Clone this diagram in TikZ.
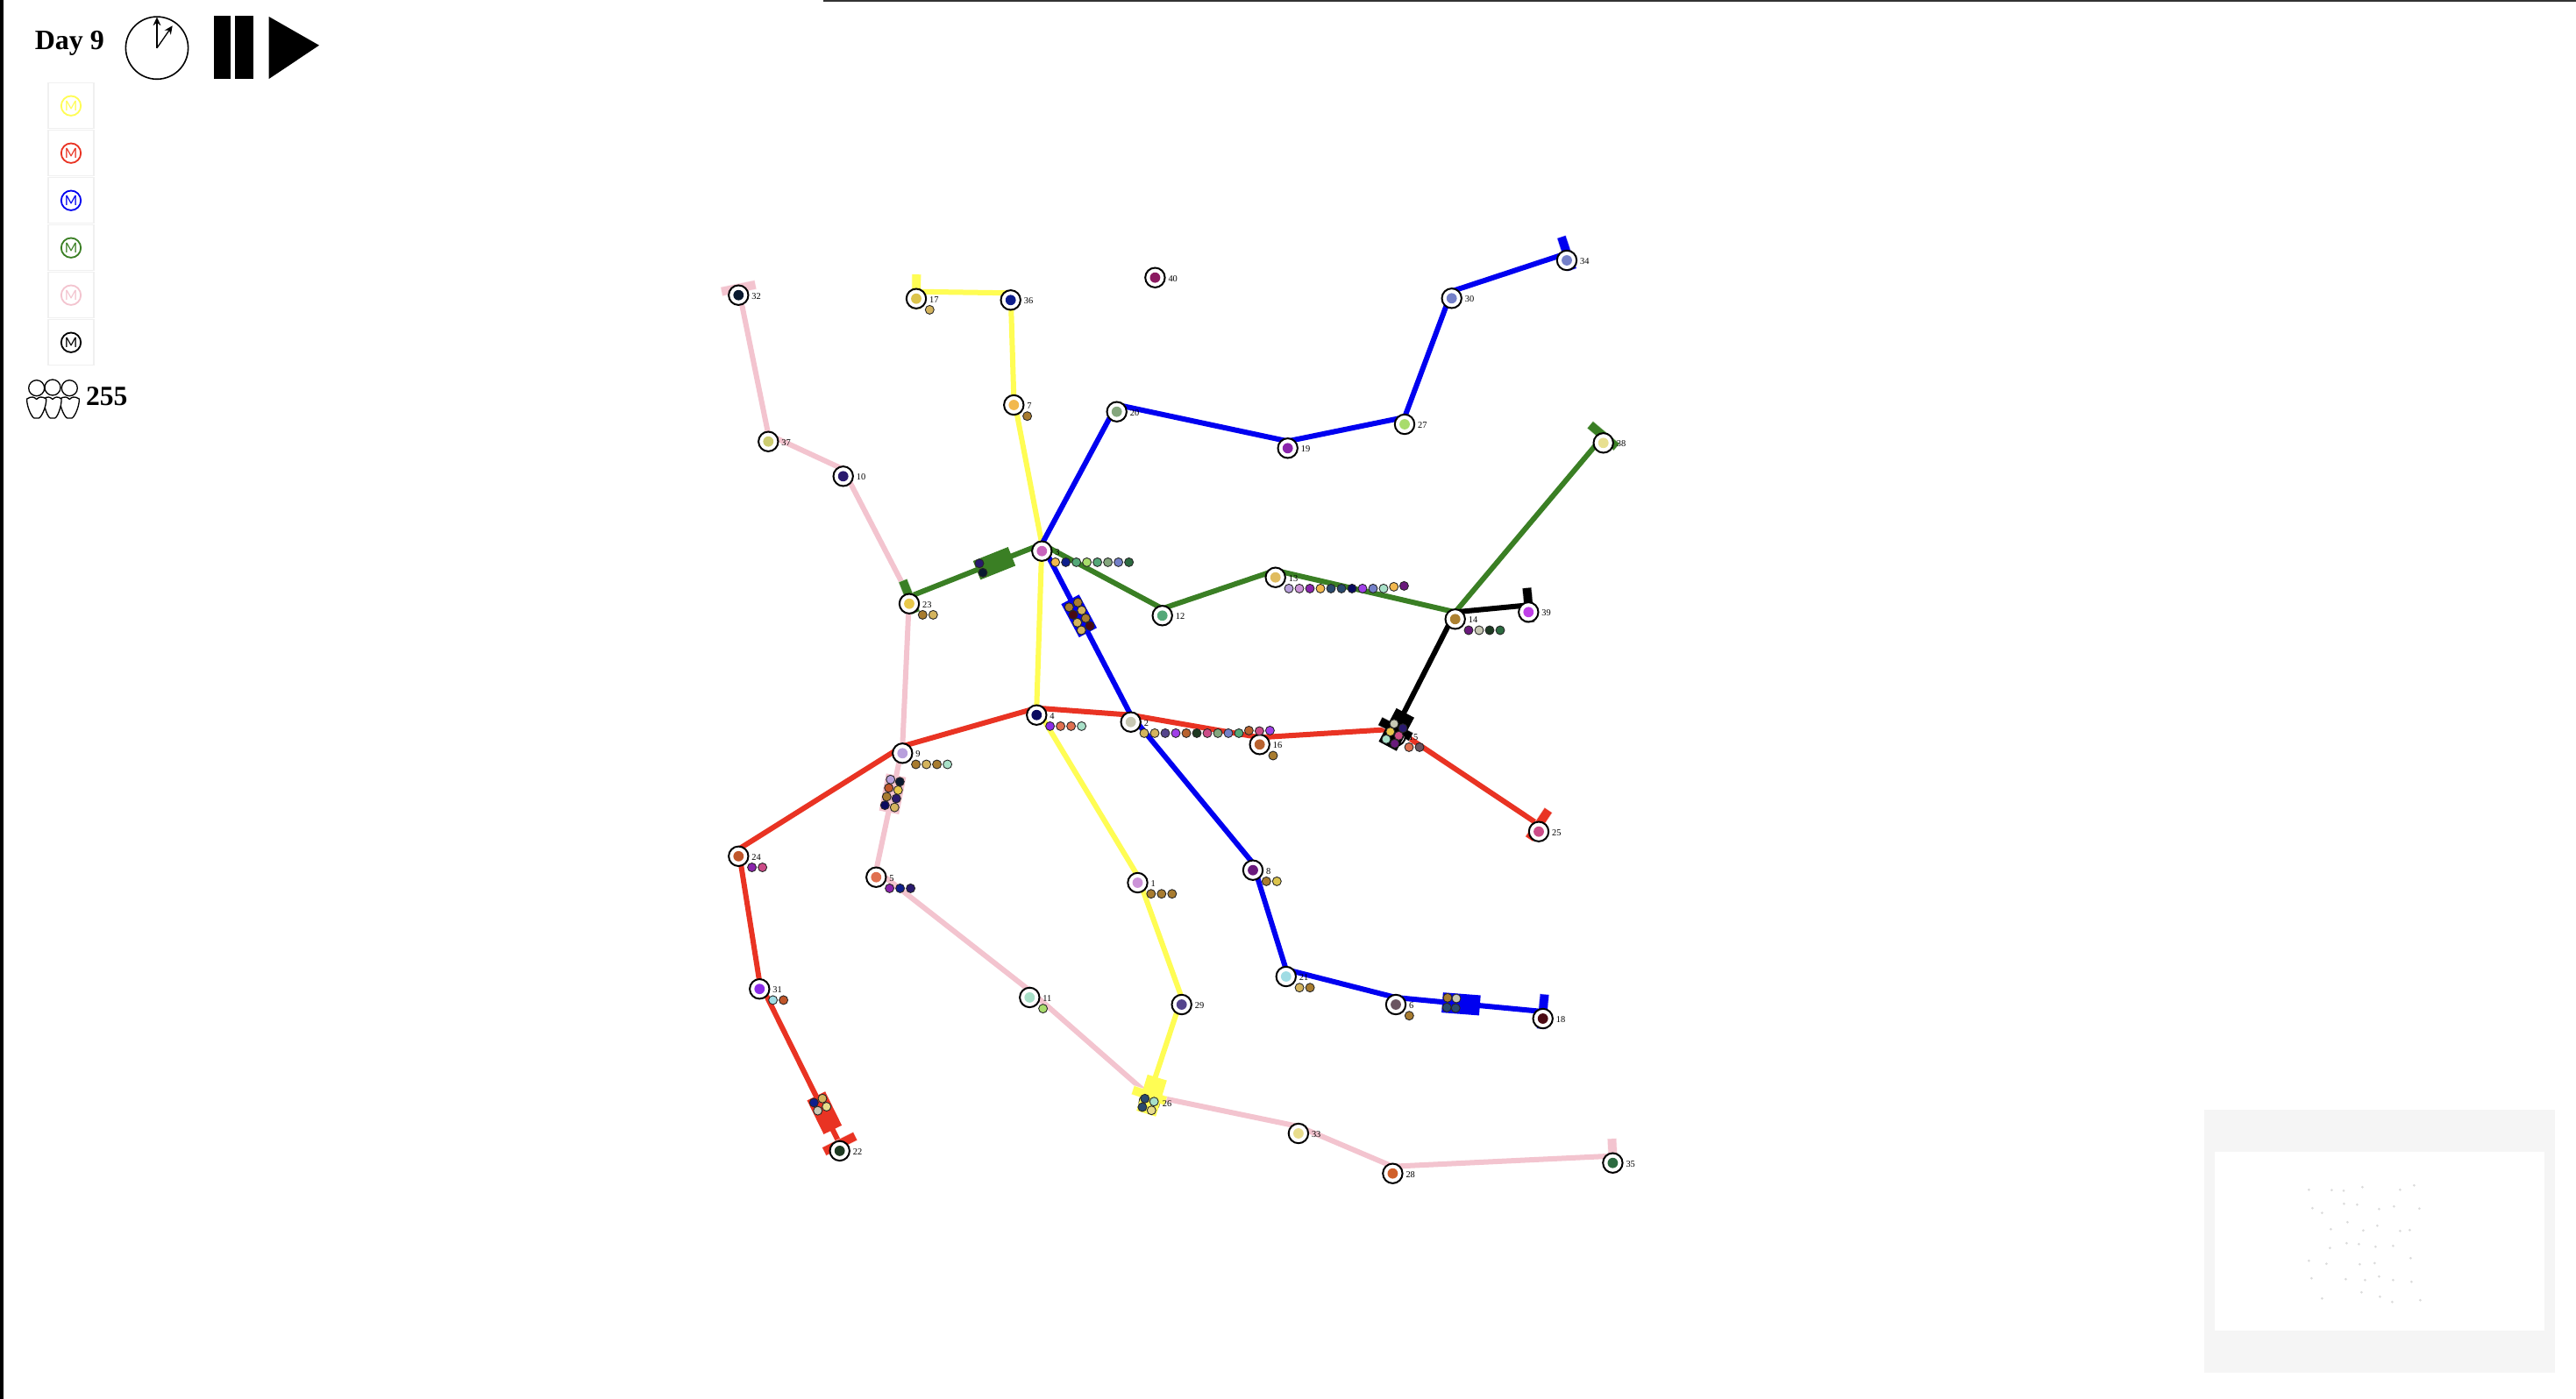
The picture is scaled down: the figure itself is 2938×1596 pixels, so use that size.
\documentclass[tikz,border=0pt]{standalone}
\usepackage{fontspec}
\setmainfont{Liberation Serif}
\newfontfamily\latofont{Lato}
\usetikzlibrary{calc,arrows.meta,backgrounds}
\definecolor{lineyellow}{HTML}{FFFD54}
\definecolor{linered}{HTML}{E93323}
\definecolor{lineblue}{HTML}{0000F0}
\definecolor{linegreen}{HTML}{3A7F24}
\definecolor{linepink}{HTML}{F3C4CF}
\definecolor{linekey}{HTML}{000000}
\tikzset{
  stationring/.style={circle,draw=black,fill=white,line width=.5pt,minimum size=5.6pt,inner sep=0pt},
  stationdot/.style={circle,minimum size=2.95pt,inner sep=0pt},
  stationlabel/.style={anchor=west,inner sep=0pt,text=black,font=\fontsize{2.6pt}{3pt}\selectfont},
  paxdot/.style={circle,draw=black!85,line width=.22pt,minimum size=2.5pt,inner sep=0pt},
  trackline/.style={line width=1.5pt,line join=round},
  capline/.style={line width=2.4pt},
  capglow/.style={line width=2.75pt},
  trainbox/.style={rectangle,minimum width=10.75pt,minimum height=5.75pt,inner sep=0pt},
  legendcell/.style={rectangle,draw=black!6,fill=white,line width=.35pt,minimum size=13pt,inner sep=0pt},
  legendmark/.style={circle,fill=white,line width=.45pt,minimum size=5.6pt,inner sep=0pt,font=\latofont\fontsize{3.9pt}{4pt}\selectfont},
  peoplebody/.style={draw=black,line width=.33pt,line join=round},
  clockhand/.style={line width=.33pt,-{Stealth[length=2.4pt,width=2.2pt]}}
}
% station: name, x, y, hex of the inner dot
\newcommand\mstn[4]{%
  \node[stationring] (s#1) at (#2,#3) {};
  \definecolor{tmpc}{HTML}{#4}%
  \node[stationdot,fill=tmpc] (d#1) at (s#1.center) {};
  \coordinate (p#1) at ($(s#1.center)+(0,-8)$);
  \node[stationlabel] (n#1) at ($(s#1.center)+(14.3,1)$) {#1};
}
% waiting passengers at a station
\newcommand\mpax[2]{%
  \foreach \pc [count=\pn from 0] in {#2}{%
    \edef\tmpdef{\noexpand\definecolor{tmpc}{HTML}{\pc}}\tmpdef
    \node[paxdot,fill=tmpc] (q#1-\pn) at ($(s#1.center)+({15.3+12*\pn},12.7)$) {};
  }%
}
% single passenger at a free place
\newcommand\mrider[4]{%
  \definecolor{tmpc}{HTML}{#4}%
  \node[paxdot,fill=tmpc] (#1) at (#2,#3) {};
}
% line end bar: at station a, across the track towards b
\newcommand\mcap[3]{%
  \draw[capglow,#3!25] ($(p#1)!5pt!90:(p#2)$) -- ($(p#1)!5pt!-90:(p#2)$);
  \draw[capline,#3] ($(p#1)!4.875pt!90:(p#2)$) -- ($(p#1)!4.875pt!-90:(p#2)$);
}
\begin{document}
\begin{tikzpicture}[x=.25pt,y=-.25pt]
\useasboundingbox (0,0) rectangle (2938,1596);
% stations
\mstn{32}{842.3}{336.7}{0A1A30}
\mstn{37}{876.3}{503.7}{CCCC70}
\mstn{10}{961.7}{543.3}{2A1A6E}
\mstn{23}{1037}{688.7}{E8C84A}
\mstn{17}{1045}{340.7}{DCC44C}
\mstn{36}{1152.7}{342.3}{0E1E8C}
\mstn{7}{1156.3}{462}{F2B84E}
\mstn{20}{1273.7}{469.7}{84A67C}
\mstn{3}{1188.3}{628.7}{C864BC}
\mstn{19}{1468.7}{511.3}{8A24AC}
\mstn{27}{1602}{484}{A8DC6C}
\mstn{12}{1325.7}{702.3}{54A878}
\mstn{13}{1454.7}{658.7}{E0BC60}
\mstn{4}{1182.3}{815.7}{0A0A60}
\mstn{2}{1289.7}{823.7}{C8C8B4}
\mstn{16}{1436.7}{849.3}{B8622E}
\mstn{34}{1787}{297}{7480C8}
\mstn{30}{1655.7}{340.3}{7480C8}
\mstn{38}{1828.7}{505.3}{E8E090}
\mstn{14}{1659.7}{706.3}{AC8030}
\mstn{39}{1743.3}{698.3}{C040E8}
\mstn{15}{1591.7}{839.7}{E8C84A}
\mstn{25}{1755}{948.7}{CC4C88}
\mstn{9}{1029.3}{859.3}{B8A0DC}
\mstn{24}{842.3}{976.8}{C0562A}
\mstn{5}{999.3}{1000.7}{E07050}
\mstn{31}{866.3}{1128.2}{8A2CE8}
\mstn{22}{957.7}{1312.9}{1E3A22}
\mstn{11}{1174.3}{1137.9}{A8E0C8}
\mstn{1}{1297.5}{1007}{CC94D8}
\mstn{8}{1429}{992.7}{6A1A7C}
\mstn{21}{1466.8}{1114}{A0DCE4}
\mstn{6}{1592}{1146}{6A5460}
\mstn{18}{1759.7}{1162}{4A0A14}
\mstn{29}{1347.7}{1146}{54448C}
\mstn{26}{1310.8}{1257.7}{A8E0C8}
\mstn{33}{1480.9}{1293}{E8DC8C}
\mstn{28}{1588.4}{1338.7}{D0602A}
\mstn{35}{1839.4}{1326.7}{2C6A40}
\mstn{40}{1317.4}{316.7}{8A1A60}
% tracks, under the stations
\begin{pgfonlayer}{background}
\fill[white] (0,0) rectangle (2938,1596);
\draw[trackline,linepink] (p32)--(p37)--(p10)--(p23)--(p9)--(p5)--(p11)--(p26)--(p33)--(p28)--(p35);
\mcap{32}{37}{linepink}
\mcap{35}{28}{linepink}
\draw[trackline,lineyellow] (p17)--(p36)--(p7)--(p3)--(p4)--(p1)--(p29)--(p26);
\mcap{17}{36}{lineyellow}
\mcap{26}{29}{lineyellow}
\draw[trackline,lineblue] (p34)--(p30)--(p27)--(p19)--(p20)--(p3)--(p2)--(p8)--(p21)--(p6)--(p18);
\mcap{34}{30}{lineblue}
\mcap{18}{6}{lineblue}
\draw[trackline,linered] (p22)--(p31)--(p24)--(p9)--(p4)--(p2)--(p16)--(p15)--(p25);
\mcap{22}{31}{linered}
\mcap{25}{15}{linered}
\draw[trackline,linegreen] (p23)--(p3)--(p12)--(p13)--(p14)--(p38);
\mcap{23}{3}{linegreen}
\mcap{38}{14}{linegreen}
\draw[trackline,linekey] (p39)--(p14)--(p15);
\mcap{39}{14}{linekey}
\mcap{15}{14}{linekey}
\end{pgfonlayer}
% trains
\node[trainbox,fill=linegreen,rotate=21.8] (t1) at (1134,642.7) {};
\node[trainbox,fill=lineblue,rotate=-61.8] (t2) at (1230.7,702.7) {};
\node[trainbox,fill=linepink,rotate=79] (t3) at (1018,905.7) {};
\node[trainbox,fill=linered,rotate=-63.8] (t4) at (940.3,1269.6) {};
\node[trainbox,fill=lineblue,rotate=-4.4] (t5) at (1666.4,1145.3) {};
\node[trainbox,fill=lineyellow,rotate=73] (t6) at (1313.5,1249.8) {};
\node[trainbox,fill=linekey,rotate=62] (t7) at (1592.7,832.3) {};
% riders
\mrider{r11}{1117}{642.7}{2A1A6E}
\mrider{r12}{1121}{653.3}{0A1A30}
\mrider{r21}{1219.3}{692.7}{A87C30}
\mrider{r22}{1229.3}{687.3}{A87C30}
\mrider{r23}{1224}{701.3}{4A0A14}
\mrider{r24}{1233.7}{696.3}{D4B45E}
\mrider{r25}{1228.7}{710.3}{D4B45E}
\mrider{r26}{1238.3}{705.3}{A87C30}
\mrider{r27}{1233.3}{719}{D4B45E}
\mrider{r28}{1243}{714}{4A0A14}
\mrider{r31}{1015.7}{889.3}{B8A0DC}
\mrider{r32}{1026.3}{891.8}{0A1A30}
\mrider{r33}{1013.7}{898.9}{C0562A}
\mrider{r34}{1024.3}{901.4}{E8C84A}
\mrider{r35}{1011.3}{908.9}{A87C30}
\mrider{r36}{1022.3}{911}{2A1A6E}
\mrider{r37}{1009.3}{918.6}{0A0A60}
\mrider{r38}{1020.3}{921.1}{D4B45E}
\mrider{r41}{938}{1253.2}{D4B45E}
\mrider{r42}{928.3}{1257.9}{0E1E8C}
\mrider{r43}{942.7}{1262.5}{E8DC8C}
\mrider{r44}{932.7}{1267.1}{C8C8B4}
\mrider{r51}{1651}{1138.3}{A87C30}
\mrider{r52}{1661}{1139}{C8C8B4}
\mrider{r53}{1650.2}{1149.3}{2A4A6E}
\mrider{r54}{1660.2}{1150}{2A4A6E}
\mrider{r61}{1305.8}{1253.3}{2A4A6E}
\mrider{r62}{1316.2}{1256.7}{A8E0C8}
\mrider{r63}{1302.9}{1263}{2A4A6E}
\mrider{r64}{1313.3}{1266.7}{E8DC8C}
\mrider{r71}{1590}{825.7}{C8C8B4}
\mrider{r72}{1600}{830.7}{2A1A6E}
\mrider{r73}{1585.7}{834.7}{E8C84A}
\mrider{r74}{1595.3}{839.3}{CC4C88}
\mrider{r75}{1581}{843.3}{A8E0C8}
\mrider{r76}{1590.7}{848.3}{6A1A7C}
% waiting passengers
\mpax{3}{F2B84E,0E1E8C,54A878,A8DC6C,54A878,84A67C,7480C8,2C6A40}
\mpax{23}{A87C30,D4B45E}
\mpax{17}{D4B45E}
\mpax{7}{A87C30}
\mpax{13}{B8A0DC,CC94D8,8A24AC,F2B84E,2A4A6E,2A4A6E,0A0A60,A040E8,7480C8,A8E0C8}
\mrider{q13-10}{1589.7}{669.4}{F2B84E}
\mrider{q13-11}{1601.4}{668.4}{6A1A7C}
\mpax{4}{8A2CE8,E07050,E07050,A8E0C8}
\mpax{2}{D4B45E,D4B45E,54448C,A040E8,B8622E,1E3A22,CC4C88,84A67C,7480C8,54A878}
\mrider{q2-10}{1424.4}{833.4}{B8622E}
\mrider{q2-11}{1436.4}{834}{CC4C88}
\mrider{q2-12}{1448.4}{833.4}{A040E8}
\mpax{16}{A87C30}
\mpax{14}{6A1A7C,C8C8B4,1E3A22,2C6A40}
\mpax{9}{A87C30,D4B45E,A87C30,A8E0C8}
\mpax{24}{8A24AC,CC4C88}
\mpax{5}{8A24AC,0E1E8C,2A1A6E}
\mpax{31}{A0DCE4,C0562A}
\mpax{11}{A8DC6C}
\mpax{1}{A87C30,A87C30,A87C30}
\mpax{8}{A87C30,DCC44C}
\mpax{21}{D4B45E,A87C30}
\mpax{6}{A87C30}
\mpax{15}{E07050,6A5460}
% page edges
\fill[black] (0,0) rectangle (4,1596);
\fill[black!80] (939,0) rectangle (2938,2);
% head of the panel
\node[anchor=base west,inner sep=0pt,font=\fontsize{8pt}{9pt}\selectfont\bfseries] (day) at (39,56) {Day 9};
\node[circle,draw=black,line width=.4pt,minimum size=17.8pt,inner sep=0pt] (clock) at (179,54.7) {};
\draw[clockhand] (clock.center) -- (179,19.5);
\draw[clockhand] (clock.center) -- (196.7,29.3);
\fill[black] (244.3,18.3) rectangle (263.3,90);
\fill[black] (267.7,18.3) rectangle (288.7,90);
\fill[black] (306.7,19) -- (364,51.7) -- (306.7,90) -- cycle;
% legend
\node[legendcell] (lg1) at (81,120.7) {};
\node[legendcell] (lg2) at (81,174.7) {};
\node[legendcell] (lg3) at (81,228.7) {};
\node[legendcell] (lg4) at (81,282.7) {};
\node[legendcell] (lg5) at (81,336.7) {};
\node[legendcell] (lg6) at (81,390.7) {};
\node[legendmark,draw=lineyellow,text=lineyellow] (lm1) at (lg1.center) {M};
\node[legendmark,draw=linered,text=linered] (lm2) at (lg2.center) {M};
\node[legendmark,draw=lineblue,text=lineblue] (lm3) at (lg3.center) {M};
\node[legendmark,draw=linegreen,text=linegreen] (lm4) at (lg4.center) {M};
\node[legendmark,draw=linepink,text=linepink] (lm5) at (lg5.center) {M};
\node[legendmark,draw=linekey,text=linekey] (lm6) at (lg6.center) {M};
% people count
\foreach \cx/\hw in {79.3/11,60/10,41.7/11}{
  \draw[peoplebody,fill=white] (\cx-\hw,455) .. controls (\cx-\hw-.5,464) and (\cx-5,477) .. (\cx-2.5,477)
    -- (\cx+2.5,477) .. controls (\cx+5,477) and (\cx+\hw+.5,464) .. (\cx+\hw,455)
    .. controls (\cx+6,452) and (\cx+3,452.5) .. (\cx,455.5)
    .. controls (\cx-3,452.5) and (\cx-6,452) .. cycle;
}
\draw[peoplebody,fill=white] (60,442) circle[radius=9];
\draw[peoplebody,fill=white] (41.7,442.7) circle[radius=9];
\draw[peoplebody,fill=white] (79.3,442.7) circle[radius=9];
\node[anchor=base west,inner sep=0pt,font=\fontsize{7.9pt}{9pt}\selectfont\bfseries] (count) at (97.3,462.7) {255};
% overview map
\fill[black!4] (2514,1266) rectangle (2914,1565.7);
\fill[white] (2526.3,1313.7) rectangle (2901.7,1517.7);
\foreach \a/\b in {460/322,538/323,579/325,643/313,772/322,820/307,472/385,505/401,580/370,625/373,700/388,751/379,838/386,592/433,535/457,646/461,694/445,772/463,805/460,532/521,589/505,631/508,688/517,748/514,460/565,520/575,634/577,685/573,808/556,469/625,586/628,652/631,700/619,748/631,811/637,505/694,640/673,703/688,745/706,841/700}{
  \fill[black!14] ({2480+\a/3},{1250+\b/3}) circle[radius=1.5];
}
\end{tikzpicture}
\end{document}
